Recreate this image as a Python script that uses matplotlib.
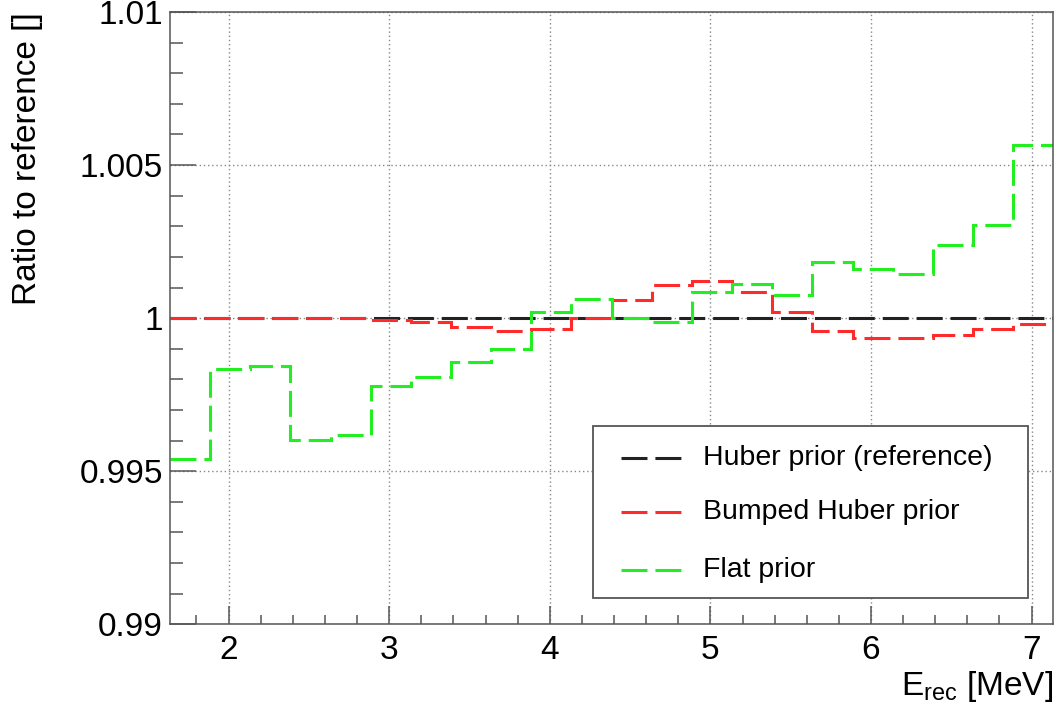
import matplotlib
matplotlib.use('Agg')
import matplotlib.pyplot as plt
from matplotlib.lines import Line2D
from matplotlib.patches import Rectangle
from matplotlib.ticker import MultipleLocator

matplotlib.rcParams['font.family'] = ['Liberation Sans', 'DejaVu Sans']
matplotlib.rcParams['mathtext.fontset'] = 'custom'
matplotlib.rcParams['mathtext.rm'] = 'Liberation Sans'
matplotlib.rcParams['mathtext.it'] = 'Liberation Sans:italic'

# bin edges of E_rec [MeV]
bin_edges = [1.635, 1.885, 2.135, 2.385, 2.635, 2.885, 3.135, 3.385, 3.635, 3.885,
             4.135, 4.385, 4.635, 4.885, 5.135, 5.385, 5.635, 5.885, 6.135, 6.385,
             6.635, 6.885, 7.135]

huber_ratio = [1.0] * 22
bumped_ratio = [1.0, 1.0, 1.0, 1.0, 1.0, 0.99995, 0.99986, 0.99970, 0.99957, 0.99966,
                1.00000, 1.00058, 1.00109, 1.00122, 1.00084, 1.00020, 0.99959, 0.99936,
                0.99936, 0.99945, 0.99966, 0.99982]
flat_ratio = [0.99541, 0.99834, 0.99843, 0.99602, 0.99619, 0.99780, 0.99808, 0.99858,
              0.99898, 1.00020, 1.00063, 1.00000, 0.99989, 1.00087, 1.00111, 1.00075,
              1.00184, 1.00162, 1.00143, 1.00238, 1.00305, 1.00566]

labels = ['Huber prior (reference)', 'Bumped Huber prior', 'Flat prior']
colors = ['#222222', '#ff2a2a', '#22ee22']
series = [huber_ratio, bumped_ratio, flat_ratio]

dash = (0, (8.5, 2.6))
lw = 2.2
frame_col = '#555555'

fig = plt.figure(figsize=(10.57, 7.10), dpi=100)
ax = fig.add_axes([0.1608, 0.1207, 0.8357, 0.8624])

ax.grid(True, which='major', color='#888888', linestyle=(0, (1, 2.0)), linewidth=1.0)
ax.set_axisbelow(True)

for vals, col in zip(series, colors):
    ax.stairs(vals, bin_edges, baseline=None, color=col, linestyle=dash, linewidth=lw)

ax.set_xlim(bin_edges[0], bin_edges[-1])
ax.set_ylim(0.99, 1.01)
ax.xaxis.set_major_locator(MultipleLocator(1))
ax.xaxis.set_minor_locator(MultipleLocator(0.2))
ax.yaxis.set_major_locator(MultipleLocator(0.005))
ax.yaxis.set_minor_locator(MultipleLocator(0.001))
ax.set_yticks([0.99, 0.995, 1.0, 1.005, 1.01])
ax.set_yticklabels(['0.99', '0.995', '1', '1.005', '1.01'])

ax.tick_params(axis='both', which='both', direction='in', colors=frame_col,
               labelcolor='black', width=1.1, labelsize=24)
ax.tick_params(axis='x', which='major', length=13, pad=8)
ax.tick_params(axis='x', which='minor', length=6.5)
ax.tick_params(axis='y', which='major', length=19, pad=5)
ax.tick_params(axis='y', which='minor', length=9.5)
for sp in ax.spines.values():
    sp.set_color(frame_col)
    sp.set_linewidth(1.1)

ax.set_xlabel(r'E$_{\mathrm{rec}}$ [MeV]', fontsize=24, loc='right', labelpad=2)
ax.set_ylabel('Ratio to reference []', fontsize=24, loc='top', labelpad=26)

# legend box drawn by hand
lx0, lx1, ly0, ly1 = 0.479, 0.971, 0.043, 0.324
ax.add_patch(Rectangle((lx0, ly0), lx1 - lx0, ly1 - ly0, transform=ax.transAxes,
                       facecolor='white', edgecolor=frame_col, linewidth=1.3, zorder=5))
rows = [0.2716, 0.1834, 0.0887]
for yy, lab, col in zip(rows, labels, colors):
    ax.add_line(Line2D([0.511, 0.583], [yy, yy], transform=ax.transAxes, color=col,
                       linestyle=dash, linewidth=lw, zorder=6))
    ax.text(0.603, yy, lab, transform=ax.transAxes, fontsize=20.5, va='center',
            ha='left', zorder=6)

fig.savefig('out.png', dpi=100)
